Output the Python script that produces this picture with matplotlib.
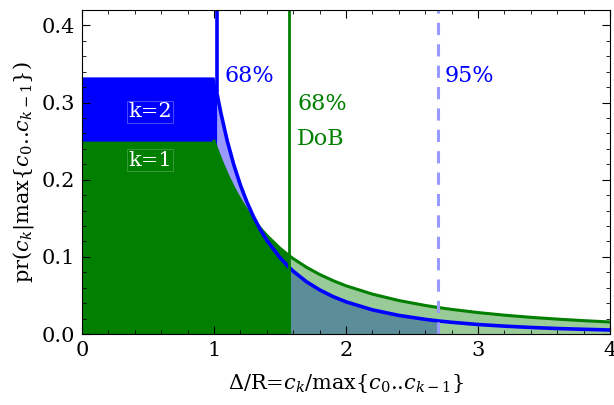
import numpy as np
import matplotlib
matplotlib.use("Agg")
import matplotlib.pyplot as plt
from matplotlib.ticker import MultipleLocator

plt.rcParams['font.family'] = ['DejaVu Serif']
plt.rcParams['mathtext.fontset'] = 'dejavuserif'

# ratio grid and densities
x = np.array([0.0, 1.0, 1.02, 1.05, 1.1, 1.15, 1.2, 1.25, 1.3, 1.35, 1.4, 1.5,
              1.57, 1.6, 1.7, 1.8, 1.9, 2.0, 2.2, 2.4, 2.6, 2.7, 2.8, 3.0,
              3.2, 3.4, 3.6, 3.8, 4.0])
pr_k1 = np.array([0.25, 0.25, 0.2403, 0.2268, 0.2066, 0.1890, 0.1736, 0.1600,
                  0.1479, 0.1372, 0.1276, 0.1111, 0.1014, 0.0977, 0.0865,
                  0.0772, 0.0693, 0.0625, 0.0517, 0.0434, 0.0370, 0.0343,
                  0.0319, 0.0278, 0.0244, 0.0216, 0.0193, 0.0173, 0.0156])
pr_k2 = np.array([0.3333, 0.3333, 0.3141, 0.2879, 0.2504, 0.2192, 0.1929,
                  0.1707, 0.1517, 0.1355, 0.1215, 0.0988, 0.0861, 0.0814,
                  0.0678, 0.0572, 0.0486, 0.0417, 0.0313, 0.0241, 0.0190,
                  0.0169, 0.0152, 0.0123, 0.0102, 0.0085, 0.0071, 0.0061,
                  0.0052])
k2_68 = 1.02
k1_68 = 1.57
k2_95 = 2.7

blue = '#0000ff'
green = '#007f00'

fig = plt.figure(figsize=(6.14, 4.05), dpi=100)
ax = fig.add_axes([0.1336, 0.1753, 0.86, 0.8])

# k=2 fills
ax.fill_between(x, 0, pr_k2, where=x <= k2_68, color=blue, lw=0)
ax.fill_between(x, 0, pr_k2, where=(x >= k2_68) & (x <= k2_95), color=blue, alpha=0.4, lw=0)
# k=1 fills
ax.fill_between(x, 0, pr_k1, where=x <= k1_68, color=green, lw=0)
ax.fill_between(x, 0, pr_k1, where=x >= k1_68, color=green, alpha=0.4, lw=0)

# curves
m1 = x >= 1.0
ax.plot(x[m1], pr_k1[m1], color=green, lw=2.2)
m2 = x >= k2_68
ax.plot(x[m2], pr_k2[m2], color=blue, lw=2.6)
ax.vlines(k2_68, pr_k2[x == k2_68][0], 0.42, color=blue, lw=2.6)
ax.axvline(k1_68, color=green, lw=2.0)
ax.axvline(k2_95, color='#9999ff', lw=2.2, ls=(0, (4, 3)))

ax.text(1.08, 0.335, '68%', color=blue, fontsize=16, va='center')
ax.text(2.75, 0.335, '95%', color=blue, fontsize=16, va='center')
ax.text(1.63, 0.298, '68%', color=green, fontsize=16, va='center')
ax.text(1.63, 0.253, 'DoB', color=green, fontsize=16, va='center')
ax.text(0.35, 0.288, 'k=2', color='white', fontsize=15, va='center',
        bbox=dict(facecolor=blue, edgecolor='#6a6aff', lw=0.5, pad=1))
ax.text(0.35, 0.225, 'k=1', color='white', fontsize=15, va='center',
        bbox=dict(facecolor=green, edgecolor='#4da64d', lw=0.5, pad=1))

ax.set_xlim(0, 4)
ax.set_ylim(0, 0.42)
ax.set_xticks([0, 1, 2, 3, 4])
ax.set_yticks([0.0, 0.1, 0.2, 0.3, 0.4])
ax.set_yticklabels(['0.0', '0.1', '0.2', '0.3', '0.4'])
ax.xaxis.set_minor_locator(MultipleLocator(0.2))
ax.yaxis.set_minor_locator(MultipleLocator(0.02))
ax.tick_params(which='both', direction='in', top=True, right=True, labelsize=15)
ax.tick_params(which='major', length=6, width=0.8, pad=5)
ax.tick_params(which='minor', length=3, width=0.6)

ax.set_xlabel('Δ/R=$c_k$/max$\\{c_0$..$c_{k-1}\\}$', fontsize=15, labelpad=9)
ax.set_ylabel('pr$(c_k|$max$\\{c_0$..$c_{k-1}\\})$', fontsize=15, labelpad=4)

fig.savefig('out.png', dpi=100)
